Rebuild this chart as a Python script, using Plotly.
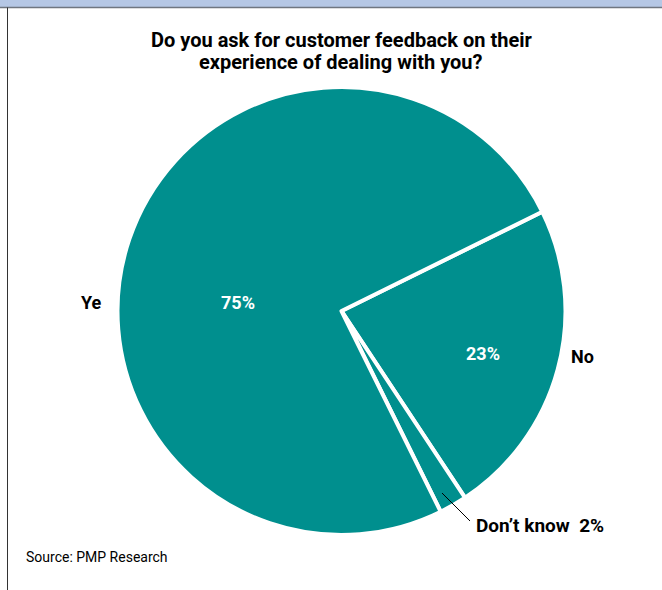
import plotly.graph_objects as go

# Survey answers, in drawing order (clockwise from the No slice)
answers = ["No", "Don't know", "Yes"]
shares = [23, 2, 75]

TEAL = "#008f8e"
FONT = "Liberation Sans Narrow, Arial Narrow, Roboto, sans-serif"

W, H = 662, 590
cx, cy, r = 341.5, 311.0, 224.0

fig = go.Figure(
    go.Pie(
        labels=answers,
        values=shares,
        sort=False,
        direction="clockwise",
        rotation=63.7,
        marker=dict(colors=[TEAL] * len(answers), line=dict(color="white", width=4)),
        textinfo="none",
        hoverinfo="label+percent",
        showlegend=False,
        domain=dict(x=[(cx - r) / W, (cx + r) / W], y=[(H - cy - r) / H, (H - cy + r) / H]),
    )
)

share = dict(zip(answers, shares))


def px(x, y):
    return x / W, 1 - y / H


annotations = []


def label(x, y, text, color="black", size=17, bold=True, anchor="center"):
    ax, ay = px(x, y)
    annotations.append(
        dict(
            x=ax, y=ay, xref="paper", yref="paper", text=f"<b>{text}</b>" if bold else text,
            showarrow=False, xanchor=anchor, yanchor="middle",
            font=dict(family=FONT, size=size, color=color),
        )
    )


# Title
label(341, 40, "Do you ask for customer feedback on their", size=20)
label(341, 62, "experience of dealing with you?", size=20)

# Slice labels
label(91, 302, "Ye", size=18)
label(238, 302, f"{share['Yes']}%", color="white", size=18)
label(483, 353, f"{share['No']}%", color="white", size=18)
label(582, 356, "No", size=18)
label(474, 525, f"Don\u2019t know  {share[answers[1]]}%", anchor="left", size=19)

# Source note
label(24, 557, "Source: PMP Research", size=14, bold=False, anchor="left")

shapes = [
    # header band
    dict(type="rect", xref="paper", yref="paper", x0=0, x1=1, y0=1 - 7 / H, y1=1,
         fillcolor="#b5c7e5", line=dict(width=0), layer="below"),
    dict(type="line", xref="paper", yref="paper", x0=0, x1=1, y0=1 - 7.5 / H, y1=1 - 7.5 / H,
         line=dict(color="#6f7680", width=1.5)),
    # left frame line
    dict(type="line", xref="paper", yref="paper", x0=7.5 / W, x1=7.5 / W, y0=0, y1=1 - 7.5 / H,
         line=dict(color="#333333", width=1)),
    # leader line for the small slice
    dict(type="line", xref="paper", yref="paper",
         x0=442 / W, y0=1 - 493 / H, x1=470 / W, y1=1 - 521 / H,
         line=dict(color="black", width=1)),
]

fig.update_layout(
    width=W, height=H,
    margin=dict(l=0, r=0, t=0, b=0),
    paper_bgcolor="white",
    plot_bgcolor="white",
    annotations=annotations,
    shapes=shapes,
)

fig.write_html("out.html")
